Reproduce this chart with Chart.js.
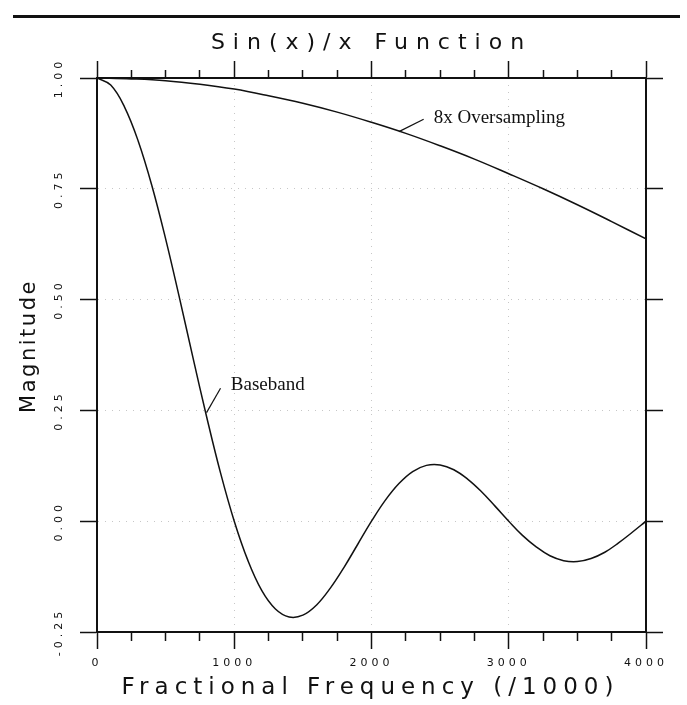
<!DOCTYPE html>
<html>
<head>
<meta charset="utf-8">
<title>Sin(x)/x Function</title>
<script src="https://cdn.jsdelivr.net/npm/chart.js@4.4.0/dist/chart.umd.min.js"></script>
<style>
  html, body { margin: 0; padding: 0; background: #fff; }
  #wrap { position: relative; width: 687px; height: 705px; }
  #sincChart { position: absolute; left: 0; top: 0; }
  /* rule across the top of the page */
  #rule { position: absolute; left: 13px; top: 15px; width: 667px; height: 3px; background: #111; }
</style>
</head>
<body>
<div id="wrap">
  <canvas id="sincChart" width="687" height="705"></canvas>
  <div id="rule"></div>
</div>
<script>
// values
const baseFreq = [0, 100, 200, 300, 400, 500, 600, 700, 800, 900,
                  1000, 1100, 1200, 1300, 1400, 1500, 1600, 1700, 1800, 1900,
                  2000, 2100, 2200, 2300, 2400, 2500, 2600, 2700, 2800, 2900,
                  3000, 3100, 3200, 3300, 3400, 3500, 3600, 3700, 3800, 3900, 4000];
const baseMag = [1.000, 0.984, 0.935, 0.858, 0.757, 0.637, 0.505, 0.368, 0.234, 0.109,
                 0.000, -0.089, -0.156, -0.198, -0.216, -0.212, -0.189, -0.151, -0.104, -0.052,
                 0.000, 0.047, 0.085, 0.112, 0.126, 0.127, 0.116, 0.095, 0.067, 0.034,
                 0.000, -0.032, -0.058, -0.078, -0.089, -0.091, -0.084, -0.070, -0.049, -0.025, 0.000];

const overFreq = [0, 250, 500, 750, 1000, 1250, 1500, 1750, 2000,
                  2250, 2500, 2750, 3000, 3250, 3500, 3750, 4000];
const overMag = [1.000, 0.998, 0.994, 0.986, 0.975, 0.960, 0.943, 0.923, 0.900,
                 0.875, 0.847, 0.817, 0.784, 0.750, 0.714, 0.676, 0.637];

const xMajorTicks = [0, 1000, 2000, 3000, 4000];
const yTicks = [-0.25, 0, 0.25, 0.5, 0.75, 1];

const INK = '#111';

// curve labels with their little leader lines (data coordinates)
const notes = [
  { text: '8x Oversampling', from: [2200, 0.879], to: [2380, 0.907], at: [2453, 0.898] },
  { text: 'Baseband', from: [798, 0.245], to: [900, 0.300], at: [975, 0.296] }
];

function isMajor(v) {
  return xMajorTicks.includes(v);
}

// give one drawing method its own letter spacing (and a small nudge)
function spaced(obj, method, gap, dx, dy) {
  if (!obj || obj['_spaced_' + method]) return;
  const orig = obj[method];
  obj[method] = function() {
    const ctx = this.ctx;
    ctx.save();
    ctx.letterSpacing = gap;
    ctx.translate(dx || 0, dy || 0);
    orig.apply(this, arguments);
    ctx.restore();
  };
  obj['_spaced_' + method] = true;
}

// wide spacing like the plotter lettering
const plotterText = {
  id: 'plotterText',
  afterLayout(chart) {
    // title sits over the plot box, not the whole canvas
    spaced(chart.titleBlock, 'draw', '8px', 28, 0);
    spaced(chart.scales.x, 'drawTitle', '6px', -1, 0);
    spaced(chart.scales.y, 'drawTitle', '2.5px', 0, -9);
  },
  beforeDraw(chart) {
    chart.ctx.letterSpacing = '4px';
  }
};

const labelNotes = {
  id: 'labelNotes',
  afterDatasetsDraw(chart) {
    const { ctx, scales: { x, y } } = chart;
    ctx.save();
    ctx.letterSpacing = '0px';
    ctx.strokeStyle = INK;
    ctx.fillStyle = INK;
    ctx.lineWidth = 1.2;
    ctx.font = '19px "Liberation Serif", "Times New Roman", serif';
    ctx.textAlign = 'left';
    ctx.textBaseline = 'alphabetic';
    notes.forEach(n => {
      ctx.beginPath();
      ctx.moveTo(x.getPixelForValue(n.from[0]), y.getPixelForValue(n.from[1]));
      ctx.lineTo(x.getPixelForValue(n.to[0]), y.getPixelForValue(n.to[1]));
      ctx.stroke();
      ctx.fillText(n.text, x.getPixelForValue(n.at[0]), y.getPixelForValue(n.at[1]));
    });
    ctx.restore();
  }
};

const faint = 'rgba(0,0,0,0.22)';
const plotFont = 'DejaVu Sans';

new Chart(document.getElementById('sincChart'), {
  type: 'line',
  data: {
    datasets: [
      {
        label: 'Baseband',
        data: baseFreq.map((f, i) => ({ x: f, y: baseMag[i] })),
        borderColor: INK,
        borderWidth: 1.5,
        pointRadius: 0,
        tension: 0.4,
        fill: false
      },
      {
        label: '8x Oversampling',
        data: overFreq.map((f, i) => ({ x: f, y: overMag[i] })),
        borderColor: INK,
        borderWidth: 1.5,
        pointRadius: 0,
        tension: 0.4,
        fill: false
      }
    ]
  },
  options: {
    responsive: false,
    animation: false,
    events: [],
    devicePixelRatio: 1,
    layout: { padding: 0 },
    plugins: {
      legend: { display: false },
      tooltip: { enabled: false },
      title: {
        display: true,
        text: 'Sin(x)/x Function',
        color: INK,
        font: { family: plotFont, size: 22, weight: 'normal' },
        padding: { top: 30, bottom: 0 }
      }
    },
    scales: {
      x: {
        type: 'linear',
        position: 'bottom',
        min: 0,
        max: 4000,
        afterFit(s) { s.height = 73; },
        ticks: {
          stepSize: 250,
          autoSkip: false,
          maxRotation: 0,
          padding: 8,
          color: INK,
          font: { family: plotFont, size: 11 },
          callback: v => isMajor(v) ? String(v) : ''
        },
        grid: {
          tickLength: 17,
          tickColor: INK,
          tickWidth: 1.5,
          lineWidth: 1,
          color: c => (isMajor(c.tick.value) && c.tick.value > 0 && c.tick.value < 4000) ? faint : 'rgba(0,0,0,0)',
          tickBorderDash: c => isMajor(c.tick.value) ? [] : [8, 40]
        },
        border: { color: INK, width: 2, dash: [1, 6] },
        title: {
          display: true,
          text: 'Fractional Frequency (/1000)',
          color: INK,
          font: { family: plotFont, size: 23 },
          padding: { top: 0, bottom: 3 }
        }
      },
      x2: {
        type: 'linear',
        position: 'top',
        min: 0,
        max: 4000,
        afterFit(s) { s.height = 21.6; },
        ticks: { stepSize: 250, display: false },
        grid: {
          drawOnChartArea: false,
          tickLength: 17,
          tickColor: INK,
          tickWidth: 1.5,
          tickBorderDash: c => isMajor(c.tick.value) ? [] : [0, 9, 8, 40]
        },
        border: { color: INK, width: 2 }
      },
      y: {
        type: 'linear',
        position: 'left',
        min: yTicks[0],
        max: yTicks[yTicks.length - 1],
        afterFit(s) { s.width = 97; },
        ticks: {
          stepSize: 0.25,
          minRotation: 90,
          maxRotation: 90,
          crossAlign: 'center',
          padding: 7,
          color: INK,
          font: { family: plotFont, size: 11 },
          callback: v => v.toFixed(2)
        },
        grid: {
          tickLength: 17,
          tickColor: INK,
          tickWidth: 1.5,
          lineWidth: 1,
          color: c => (c.tick.value > -0.25 && c.tick.value < 1) ? faint : 'rgba(0,0,0,0)'
        },
        border: { color: INK, width: 2, dash: [1, 6] },
        title: {
          display: true,
          text: 'Magnitude',
          color: INK,
          font: { family: plotFont, size: 21 },
          padding: { top: 17, bottom: 0 }
        }
      },
      y2: {
        type: 'linear',
        position: 'right',
        min: yTicks[0],
        max: yTicks[yTicks.length - 1],
        afterFit(s) { s.width = 41; },
        ticks: { stepSize: 0.25, display: false },
        grid: {
          drawOnChartArea: false,
          tickLength: 17,
          tickColor: INK,
          tickWidth: 1.5
        },
        border: { color: INK, width: 2 }
      }
    }
  },
  plugins: [plotterText, labelNotes]
});
</script>
</body>
</html>
